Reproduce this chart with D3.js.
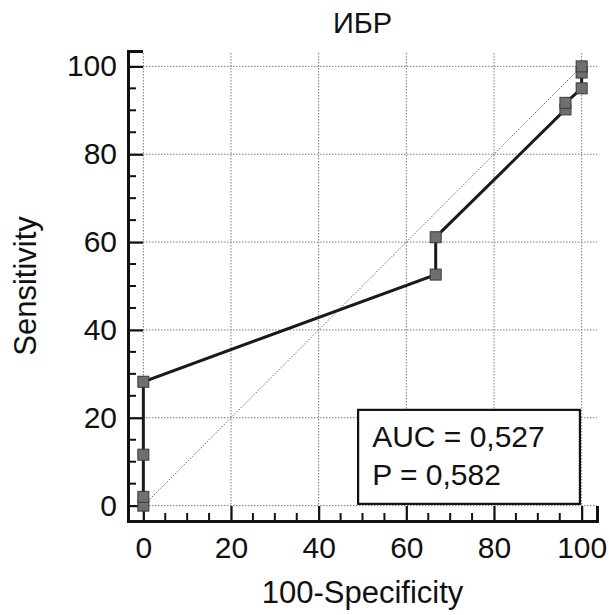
<!DOCTYPE html>
<html>
<head>
<meta charset="utf-8">
<script src="https://cdn.jsdelivr.net/npm/d3@7"></script>
<style>
  body { margin: 0; background: #fff; }
  text { font-family: "Liberation Sans", Arial, sans-serif; fill: #111; }
</style>
</head>
<body>
<div id="chart"></div>
<script>
// ROC points, 100-Specificity vs Sensitivity
const fpr  = [0, 0, 0, 0, 66.7, 66.7, 96.3, 96.3, 100, 100, 100];
const sens = [0, 2, 11.6, 28.2, 52.6, 61.1, 90.2, 91.7, 95, 98.6, 100];
const majorTicks = [0, 20, 40, 60, 80, 100];
const minorTicks = d3.range(0, 101, 5).filter(v => v % 20 != 0);
const statLines = ["AUC = 0,527", "P = 0,582"];
const title = "ИБР";

var width = 609, height = 615;
var svg = d3.select("#chart").append("svg")
  .attr("width", width)
  .attr("height", height);

let x = d3.scaleLinear().domain([-3.5, 103.5]).range([128, 597]);
let y = d3.scaleLinear().domain([-3.5, 103.5]).range([521, 51]);

let data = fpr.map((d, i) => ({x: d, y: sens[i]}));

// grid
let grid = svg.append("g")
  .attr("stroke", "#7a7a7a")
  .attr("stroke-width", 1)
  .attr("stroke-dasharray", "1.5,1.5");
grid.selectAll("line.v")
  .data(majorTicks).enter().append("line")
  .attr("x1", d => x(d)).attr("x2", d => x(d))
  .attr("y1", y(103.5) + 2).attr("y2", y(-3.5));
grid.selectAll("line.h")
  .data(majorTicks).enter().append("line")
  .attr("y1", d => y(d)).attr("y2", d => y(d))
  .attr("x1", x(-3.5)).attr("x2", x(103.5));

// diagonal
svg.append("line")
  .attr("x1", x(0)).attr("y1", y(0))
  .attr("x2", x(100)).attr("y2", y(100))
  .attr("stroke", "#6a6a6a")
  .attr("stroke-width", 1)
  .attr("stroke-dasharray", "1.5,1.5");

// axes, ticks pointing inward
let xAxis = d3.axisBottom(x).tickValues(majorTicks).tickSize(-15).tickPadding(16);
let yAxis = d3.axisLeft(y).tickValues(majorTicks).tickSize(-15).tickPadding(11);

let gx = svg.append("g")
  .attr("transform", `translate(0, ${y(-3.5)})`)
  .call(xAxis);
let gy = svg.append("g")
  .attr("transform", `translate(${x(-3.5)}, 0)`)
  .call(yAxis);

[gx, gy].forEach(g => {
  g.select(".domain").attr("stroke", "#111").attr("stroke-width", 3);
  g.selectAll(".tick line").attr("stroke", "#111").attr("stroke-width", 2.2);
  g.selectAll(".tick text")
    .style("font-size", "30px")
    .style("font-family", "'Liberation Sans', Arial, sans-serif")
    .attr("fill", "#111");
});

gx.selectAll("line.minor")
  .data(minorTicks).enter().append("line")
  .attr("x1", d => x(d)).attr("x2", d => x(d))
  .attr("y1", 0).attr("y2", -8)
  .attr("stroke", "#111").attr("stroke-width", 2);
gy.selectAll("line.minor")
  .data(minorTicks).enter().append("line")
  .attr("y1", d => y(d)).attr("y2", d => y(d))
  .attr("x1", 0).attr("x2", 8)
  .attr("stroke", "#111").attr("stroke-width", 2);

// ROC line
let line = d3.line().x(d => x(d.x)).y(d => y(d.y));
svg.append("path")
  .datum(data)
  .attr("d", line)
  .attr("fill", "none")
  .attr("stroke", "#1a1a1a")
  .attr("stroke-width", 3);

// markers
let ms = 11;
svg.selectAll("rect.pt")
  .data(data).enter().append("rect")
  .attr("class", "pt")
  .attr("x", d => x(d.x) - ms / 2)
  .attr("y", d => y(d.y) - ms / 2)
  .attr("width", ms).attr("height", ms)
  .attr("fill", "#6f6f6f")
  .attr("stroke", "#3a3a3a")
  .attr("stroke-width", 1);

// stats box
let box = svg.append("g");
box.append("rect")
  .attr("x", x(49)).attr("y", y(21.8))
  .attr("width", x(99.6) - x(49))
  .attr("height", y(0.4) - y(21.8))
  .attr("fill", "#fff")
  .attr("stroke", "#111")
  .attr("stroke-width", 2.2);
box.selectAll("text")
  .data(statLines).enter().append("text")
  .attr("x", x(52.2))
  .attr("y", (d, i) => y(13.3) + i * 38)
  .style("font-size", "30px")
  .text(d => d);

// titles
svg.append("text")
  .attr("x", x(50)).attr("y", 33)
  .attr("text-anchor", "middle")
  .style("font-size", "29px")
  .text(title);

svg.append("text")
  .attr("x", x(50)).attr("y", 603)
  .attr("text-anchor", "middle")
  .style("font-size", "31px")
  .text("100-Specificity");

svg.append("text")
  .attr("transform", `translate(36, ${y(50)}) rotate(-90)`)
  .attr("text-anchor", "middle")
  .style("font-size", "31px")
  .text("Sensitivity");
</script>
</body>
</html>
